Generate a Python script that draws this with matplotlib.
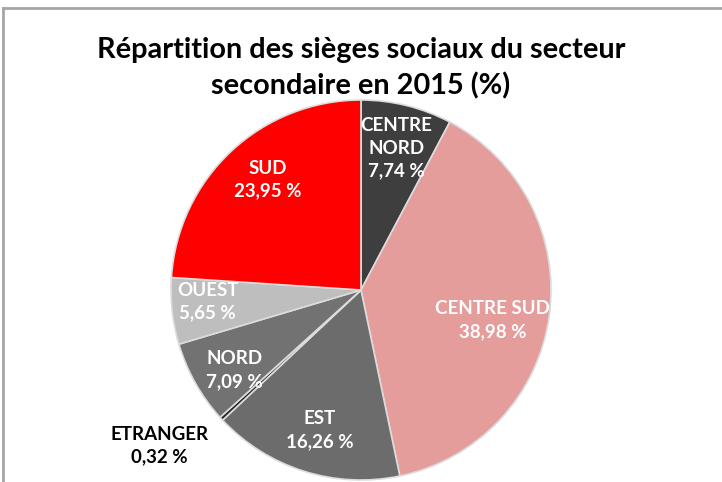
"""
Pie chart: distribution of head offices, secondary sector, 2015.
"""

import numpy as np
import matplotlib
matplotlib.use("Agg")
import matplotlib.pyplot as plt
from matplotlib.lines import Line2D

#########################################################################################

# DATA

regions = ["CENTRE\nNORD", "CENTRE SUD", "EST", "ETRANGER", "NORD", "OUEST", "SUD"]
shares = [7.74, 38.98, 16.26, 0.32, 7.09, 5.65, 23.95]
colors = ["#3e3e3e", "#e59d9b", "#6c6c6c", "#262626", "#727272", "#bebebe", "#fe0000"]

title = "Répartition des sièges sociaux du secteur\nsecondaire en 2015 (%)"

#########################################################################################

plt.rcParams["font.family"] = ["Lato", "DejaVu Sans"]

W, H = 722, 482
fig = plt.figure(figsize=(W / 100, H / 100), dpi=100)

# pie centre and radius in pixels
cx, cy, R = 361, 290, 190
ax = fig.add_axes([(cx - R) / W, (H - cy - R) / H, 2 * R / W, 2 * R / H])

wedges, _ = ax.pie(shares, colors=colors, startangle=90, counterclock=False,
                   radius=1.0,
                   wedgeprops=dict(edgecolor="#dcdcdc", linewidth=1.2))
ax.set_xlim(-1, 1)
ax.set_ylim(-1, 1)
ax.set_aspect("equal")
ax.axis("off")

# label radius per slice (fraction of radius), ETRANGER sits outside
label_r = [0.77, 0.71, 0.77, 1.34, 0.79, 0.81, 0.76]
label_shift = [0, -5, 1, -5, 3, -2, -3]  # small angular tweaks in degrees

for w, name, val, r, dth in zip(wedges, regions, shares, label_r, label_shift):
    ang = np.deg2rad((w.theta1 + w.theta2) / 2 + dth)
    txt = f"{name}\n{val:.2f} %".replace(".", ",")
    col = "black" if r > 1 else "white"
    ax.text(r * np.cos(ang), r * np.sin(ang), txt, ha="center", va="center",
            color=col, fontsize=13.5, fontweight="bold", linespacing=1.42,
            clip_on=False)

fig.text(cx / W, 1 - 68 / H, title, ha="center", va="center",
         fontsize=20.8, fontweight="bold", linespacing=1.42)

# frame (only top and left edges visible)
fig.add_artist(Line2D([3.5 / W, 3.5 / W], [0, 1 - 8 / H], color="#a6a6a6",
                      linewidth=2, transform=fig.transFigure))
fig.add_artist(Line2D([3.5 / W, 1], [1 - 8 / H, 1 - 8 / H], color="#a6a6a6",
                      linewidth=2, transform=fig.transFigure))

fig.savefig("out.png", dpi=100)
